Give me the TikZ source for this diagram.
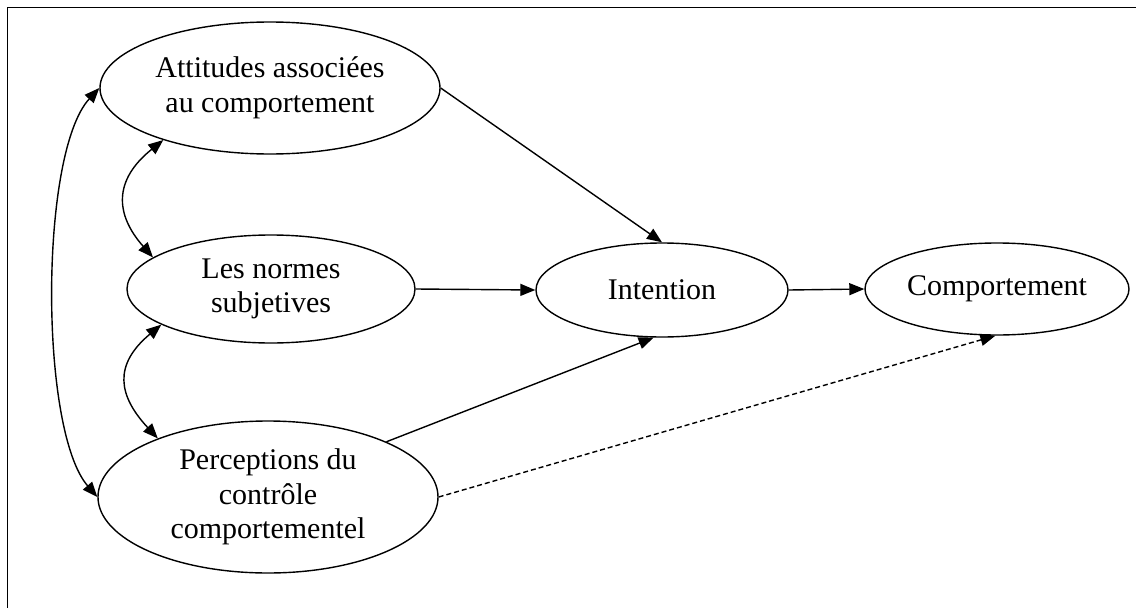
\documentclass[tikz,border=0pt]{standalone}
\usepackage{fontspec}
\setmainfont{Liberation Serif}
\usetikzlibrary{shapes.geometric,arrows.meta}
\begin{document}
\begin{tikzpicture}[x=1pt,y=-1pt,
  ell/.style={draw, ellipse, line width=1.4pt, inner sep=0pt, align=center,
    font=\fontsize{30}{34.5}\selectfont},
  conn/.style={line width=1.4pt, -{Triangle[length=15pt,width=12pt]}},
  biconn/.style={line width=1.4pt, {Triangle[length=15pt,width=12pt]}-{Triangle[length=15pt,width=12pt]}},
  dashconn/.style={conn, dash pattern=on 5pt off 3pt}]
\useasboundingbox (0,0) rectangle (1136,608);
\draw[line width=1.4pt] (7.5,7.5) rectangle (1145,615);

\node[ell, minimum width=340pt, minimum height=132pt] (att) at (270,88) {Attitudes associées\\au comportement};
\node[ell, minimum width=288pt, minimum height=108pt] (ln) at (271,289) {Les normes\\subjetives};
\node[ell, minimum width=340pt, minimum height=152pt] (per) at (268,497) {Perceptions du\\contrôle\\comportementel};
\node[ell, minimum width=252pt, minimum height=94pt] (int) at (662,290) {Intention};
\node[ell, minimum width=264pt, minimum height=92pt] (comp) at (997,289) {Comportement};

\draw[conn] (att.east) -- (int.north);
\draw[conn] (ln.east) -- (int.west);
\draw[conn] (int.east) -- (comp.west);
\draw[conn] (per.25) -- (int.260);
\draw[dashconn] (per.east) -- (comp.268);

\draw[biconn] (att.west) .. controls +(-60,65) and +(-58,-67) .. (per.west);
\draw[biconn] (att.206) .. controls +(-50,40) and +(-38,-43) .. (ln.165);
\draw[biconn] (ln.198) .. controls +(-48,40) and +(-40,-43) .. (per.152);
\end{tikzpicture}
\end{document}
